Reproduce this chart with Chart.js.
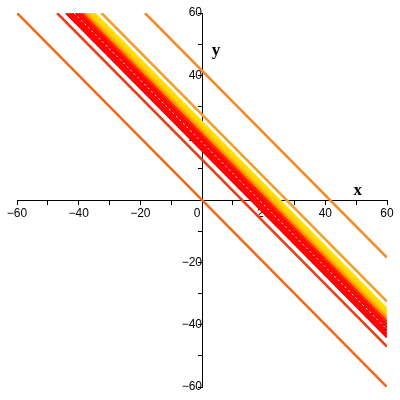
<!DOCTYPE html>
<html>
<head>
<meta charset="utf-8">
<script src="https://cdn.jsdelivr.net/npm/chart.js@4/dist/chart.umd.min.js"></script>
<style>
  html, body { margin: 0; padding: 0; background: #fff; }
  #chart { display: block; }
</style>
</head>
<body>
<canvas id="chart" width="400" height="400"></canvas>
<script>
// contour levels: each curve is x + y = level
const levels = [0, 13, 16, 17, 18, 19, 20, 21, 22, 23, 24, 25, 27.4, 41.5];
const levelColors = [
  "#f06a1e", "#e8401a",
  "#ff0000", "#ff0000", "#f80000", "#ff0000", "#ff0800", "#ff2a00",
  "#ff9000", "#ffc400", "#ffd800", "#ffe200",
  "#f2a02c", "#f08c2c",
];
// thin white dotted streak inside the red band
const streakLevel = 18.5;

const xTicks = [-60, -40, -20, 0, 20, 40, 60];
const yTicks = [-60, -40, -20, 20, 40, 60];
const range = [-60, 60];

const lineFor = (c) => {
  const x0 = Math.max(range[0], c - range[1]);
  const x1 = Math.min(range[1], c - range[0]);
  return [{x: x0, y: c - x0}, {x: x1, y: c - x1}];
};

const datasets = [
  {
    data: lineFor(streakLevel),
    borderColor: "#ffffff",
    borderWidth: 1,
    borderDash: [2, 3],
  },
];
levels.forEach((c, i) => {
  datasets.push({
    data: lineFor(c),
    borderColor: levelColors[i],
    borderWidth: 2.6,
  });
});
datasets.forEach((d) => {
  d.showLine = true;
  d.pointRadius = 0;
  d.fill = false;
});

// axis names drawn next to the axes, like the original plot
const axisNames = {
  id: "axisNames",
  afterDraw(chart) {
    const {ctx, scales} = chart;
    ctx.save();
    ctx.fillStyle = "#000";
    ctx.font = "bold 17px 'Liberation Serif'";
    ctx.textAlign = "center";
    ctx.textBaseline = "middle";
    ctx.fillText("x", scales.x.getPixelForValue(50.5), scales.y.getPixelForValue(3));
    ctx.fillText("y", scales.x.getPixelForValue(4.5), scales.y.getPixelForValue(48));
    ctx.restore();
  },
};

const tickFont = {family: "'Liberation Sans'", size: 12};

new Chart(document.getElementById("chart"), {
  type: "scatter",
  data: {datasets: datasets},
  options: {
    responsive: false,
    animation: false,
    devicePixelRatio: 1,
    layout: {padding: {left: 17, right: 13, top: 13, bottom: 13}},
    plugins: {legend: {display: false}, tooltip: {enabled: false}},
    scales: {
      x: {
        type: "linear",
        min: range[0],
        max: range[1],
        position: {y: 0},
        border: {color: "#000", width: 1},
        grid: {drawOnChartArea: false, drawTicks: true, tickLength: 4, color: "#000"},
        ticks: {
          stepSize: 10,
          autoSkip: false,
          maxRotation: 0,
          padding: 2,
          color: "#000",
          font: tickFont,
          callback: (v) => {
            if (!xTicks.includes(v)) return "";
            if (v === 0) return "0   ";
            return String(v).replace("-", "\u2212");
          },
        },
      },
      y: {
        type: "linear",
        min: range[0],
        max: range[1],
        position: {x: 0},
        border: {color: "#000", width: 1},
        grid: {drawOnChartArea: false, drawTicks: true, tickLength: 4, color: "#000"},
        ticks: {
          stepSize: 10,
          autoSkip: false,
          padding: 2,
          color: "#000",
          font: tickFont,
          callback: (v) => (yTicks.includes(v) ? String(v).replace("-", "\u2212") : ""),
        },
      },
    },
  },
  plugins: [axisNames],
});
</script>
</body>
</html>
